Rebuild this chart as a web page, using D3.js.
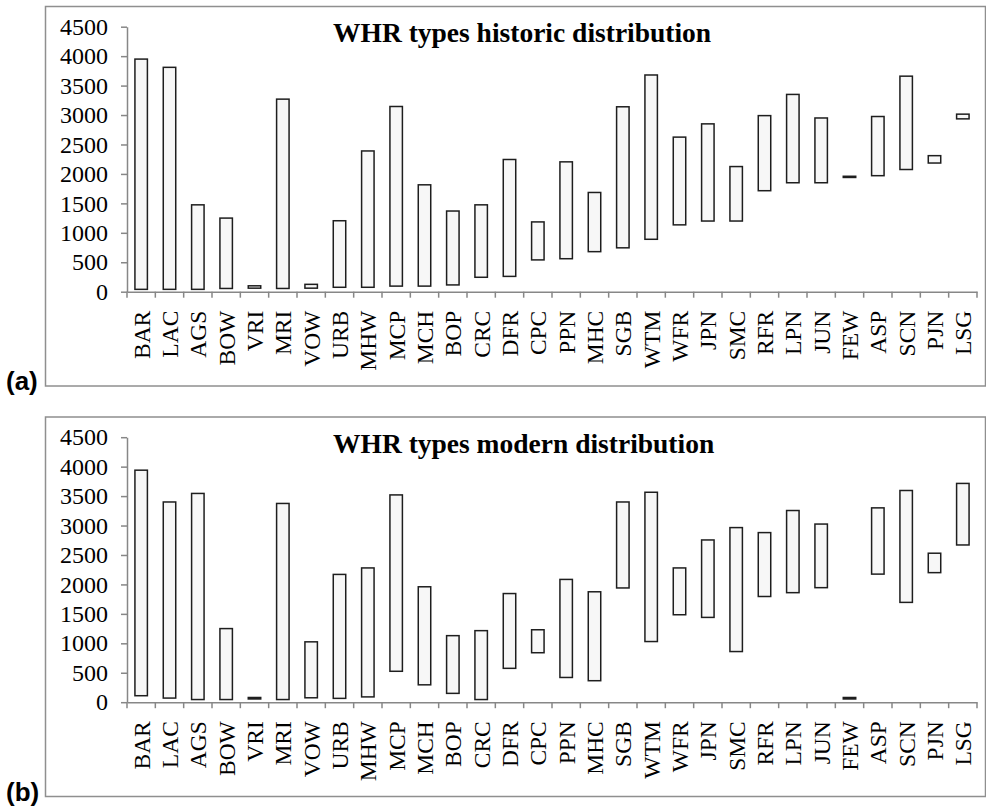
<!DOCTYPE html>
<html>
<head>
<meta charset="utf-8">
<script src="https://cdn.jsdelivr.net/npm/d3@7/dist/d3.min.js"></script>
<style>
  html, body { margin: 0; padding: 0; background: #fff; }
  svg { display: block; }
</style>
</head>
<body>
<svg id="chart" width="986" height="806"></svg>
<script>
const categories = ["BAR","LAC","AGS","BOW","VRI","MRI","VOW","URB","MHW","MCP","MCH","BOP","CRC","DFR","CPC","PPN","MHC","SGB","WTM","WFR","JPN","SMC","RFR","LPN","JUN","FEW","ASP","SCN","PJN","LSG"];

const historicLow  = [40, 40, 40, 55, 60, 55, 60, 75, 75, 95, 95, 115, 245, 260, 540, 560, 680, 745, 890, 1135, 1200, 1200, 1715, 1850, 1850, 1940, 1970, 2075, 2185, 2935];
const historicHigh = [3950, 3810, 1475, 1250, 100, 3270, 125, 1205, 2390, 3145, 1815, 1370, 1475, 2245, 1185, 2205, 1685, 3140, 3680, 2625, 2850, 2125, 2990, 3350, 2950, 1960, 2975, 3660, 2310, 3015];

const modernLow  = [110, 70, 45, 45, 55, 45, 75, 65, 90, 525, 295, 150, 45, 575, 840, 420, 365, 1940, 1030, 1485, 1440, 860, 1795, 1860, 1945, 55, 2175, 1695, 2200, 2670];
const modernHigh = [3940, 3400, 3545, 1250, 80, 3375, 1025, 2170, 2280, 3520, 1960, 1130, 1215, 1845, 1230, 2085, 1875, 3400, 3565, 2280, 2755, 2965, 2880, 3255, 3025, 80, 3300, 3595, 2530, 3715];

const yTicks = [0, 500, 1000, 1500, 2000, 2500, 3000, 3500, 4000, 4500];

const titles = ["WHR types historic distribution", "WHR types modern distribution"];
const panelLabels = ["(a)", "(b)"];

const svg = d3.select("#chart");
const serif = "'Liberation Serif','Times New Roman',Times,serif";
const sans = "'Liberation Sans',Arial,Helvetica,sans-serif";
const gridGray = "#878787";

const panels = [
  {low: historicLow, high: historicHigh, off: 0},
  {low: modernLow, high: modernHigh, off: 410.5}
];

panels.forEach((p, i) => {
  const g = svg.append("g").attr("transform", `translate(0,${p.off})`);

  // frame
  g.append("rect")
    .attr("x", 45.5).attr("y", 6.5)
    .attr("width", 940).attr("height", 379.5)
    .attr("fill", "none")
    .attr("stroke", "#8f8f8f")
    .attr("stroke-width", 1.5);

  // panel label
  g.append("text")
    .attr("x", 6).attr("y", 390)
    .attr("font-family", sans)
    .attr("font-weight", "bold")
    .attr("font-size", 26)
    .attr("fill", "#000")
    .text(panelLabels[i]);

  const x = d3.scaleBand().domain(categories).range([127, 977]);
  const y = d3.scaleLinear().domain([0, 4500]).range([291.7, 26.7]);

  // title
  g.append("text")
    .attr("x", 333).attr("y", 42)
    .attr("font-family", serif)
    .attr("font-weight", "bold")
    .attr("font-size", 27.5)
    .attr("fill", "#000")
    .text(titles[i]);

  // y axis
  const yAxis = d3.axisLeft(y).tickValues(yTicks).tickSize(6).tickSizeOuter(0).tickPadding(13).tickFormat(d3.format("d"));
  const ya = g.append("g").attr("transform", "translate(127,0)").call(yAxis);
  ya.select(".domain").attr("stroke", gridGray).attr("stroke-width", 1.5);
  ya.selectAll(".tick line").attr("stroke", gridGray).attr("stroke-width", 1.5);
  ya.selectAll(".tick text")
    .attr("font-family", serif)
    .attr("font-size", 24)
    .attr("fill", "#000");

  // x axis
  const xAxis = d3.axisBottom(x).tickSize(0).tickSizeOuter(0).tickPadding(0);
  const xa = g.append("g").attr("transform", `translate(0,${y(0)})`).call(xAxis);
  xa.select(".domain").attr("stroke", gridGray).attr("stroke-width", 1.5);
  xa.selectAll(".tick text")
    .attr("font-family", serif)
    .attr("font-size", 23.5)
    .attr("fill", "#000")
    .attr("text-anchor", "end")
    .attr("transform", "rotate(-90)")
    .attr("x", -19)
    .attr("y", 0)
    .attr("dy", "0.36em");

  // tick marks at category boundaries
  const bounds = categories.map(c => x(c)).concat([x.range()[1]]);
  xa.selectAll("line.bound")
    .data(bounds)
    .join("line")
    .attr("class", "bound")
    .attr("x1", d => d).attr("x2", d => d)
    .attr("y1", 0).attr("y2", 6)
    .attr("stroke", gridGray)
    .attr("stroke-width", 1.5);

  // floating bars
  const barW = x.bandwidth() * 0.44;
  g.append("g").selectAll("rect")
    .data(categories.map((c, k) => ({c, lo: p.low[k], hi: p.high[k]})))
    .join("rect")
    .attr("x", d => x(d.c) + (x.bandwidth() - barW) / 2)
    .attr("y", d => y(d.hi))
    .attr("width", barW)
    .attr("height", d => y(d.lo) - y(d.hi))
    .attr("fill", "#f7f7f7")
    .attr("stroke", "#1e1e1e")
    .attr("stroke-width", 1.5);
});
</script>
</body>
</html>
